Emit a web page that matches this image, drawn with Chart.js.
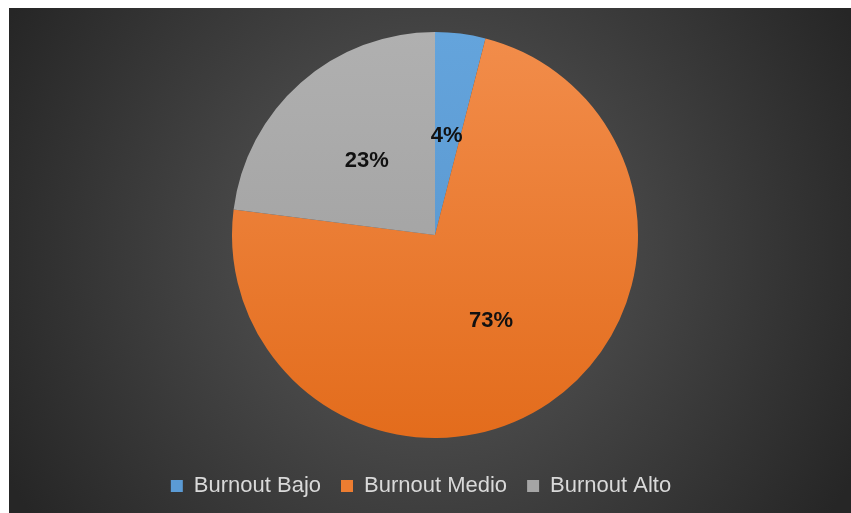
<!DOCTYPE html>
<html>
<head>
<meta charset="utf-8">
<script src="https://cdn.jsdelivr.net/npm/chart.js@4.4.1/dist/chart.umd.min.js"></script>
<style>
    html, body {margin: 0; background: #fff;}
    canvas {display: block;}
</style>
</head>
<body>
<canvas id="chart" width="851" height="513"></canvas>
<script>
const categories = ['Burnout Bajo', 'Burnout Medio', 'Burnout Alto'];
const values = [4, 73, 23];
const colors = ['#5B9BD5', '#ED7D31', '#A5A5A5'];
const topColors = ['#64A4DC', '#F28D4B', '#B0B0B0'];
const bottomColors = ['#5592CA', '#E36C1C', '#9B9B9B'];

// dark backdrop with a radial glow, white strip on top/left
const backdrop = {
    id: 'backdrop',
    beforeDraw(chart) {
        let ctx = chart.ctx;
        ctx.save();
        ctx.fillStyle = '#fff';
        ctx.fillRect(0, 0, chart.width, chart.height);
        let g = ctx.createRadialGradient(430, 250, 0, 430, 250, 480);
        g.addColorStop(0, '#5c5c5c');
        g.addColorStop(1, '#262626');
        ctx.fillStyle = g;
        ctx.fillRect(9, 8, chart.width - 9, chart.height - 8);
        ctx.restore();
    }
};

// legend sits a bit left of the pie centre in the original
const legendShift = {
    id: 'legendShift',
    afterLayout(chart) {
        chart.legend.left -= 14;
        chart.legend.right -= 14;
    }
};

// percentage labels inside the slices
const pctLabels = {
    id: 'pctLabels',
    afterDatasetsDraw(chart) {
        let ctx = chart.ctx;
        let meta = chart.getDatasetMeta(0);
        let total = values.reduce((a, b) => a + b, 0);
        ctx.save();
        ctx.font = 'bold 22px "Liberation Sans", Arial, sans-serif';
        ctx.fillStyle = '#111';
        ctx.textAlign = 'center';
        ctx.textBaseline = 'middle';
        meta.data.forEach((arc, i) => {
            let p = arc.tooltipPosition();
            ctx.fillText(Math.round(values[i] / total * 100) + '%', p.x - 1, p.y + 2);
        });
        ctx.restore();
    }
};

function sliceColor(context) {
    let area = context.chart.chartArea;
    let i = context.dataIndex;
    if (!area) {
        return colors[i];
    }
    let g = context.chart.ctx.createLinearGradient(0, 32, 0, 438);
    g.addColorStop(0, topColors[i]);
    g.addColorStop(1, bottomColors[i]);
    return g;
}

let chart = new Chart(document.getElementById('chart'), {
    type: 'pie',
    data: {
        labels: categories,
        datasets: [{
            data: values,
            backgroundColor: sliceColor,
            borderWidth: 0,
            radius: 203
        }]
    },
    options: {
        responsive: false,
        animation: false,
        layout: {padding: {left: 19, right: 0, top: 15, bottom: 6}},
        plugins: {
            tooltip: {enabled: false},
            legend: {
                position: 'bottom',
                labels: {
                    color: '#D9D9D9',
                    font: {family: '"Liberation Sans", Arial, sans-serif', size: 22},
                    boxWidth: 12,
                    boxHeight: 12,
                    padding: 20,
                    generateLabels(chart) {
                        return categories.map((c, i) => ({
                            text: c,
                            fillStyle: colors[i],
                            strokeStyle: colors[i],
                            lineWidth: 0,
                            fontColor: '#D9D9D9',
                            index: i
                        }));
                    }
                }
            }
        }
    },
    plugins: [backdrop, legendShift, pctLabels]
});
</script>
</body>
</html>
